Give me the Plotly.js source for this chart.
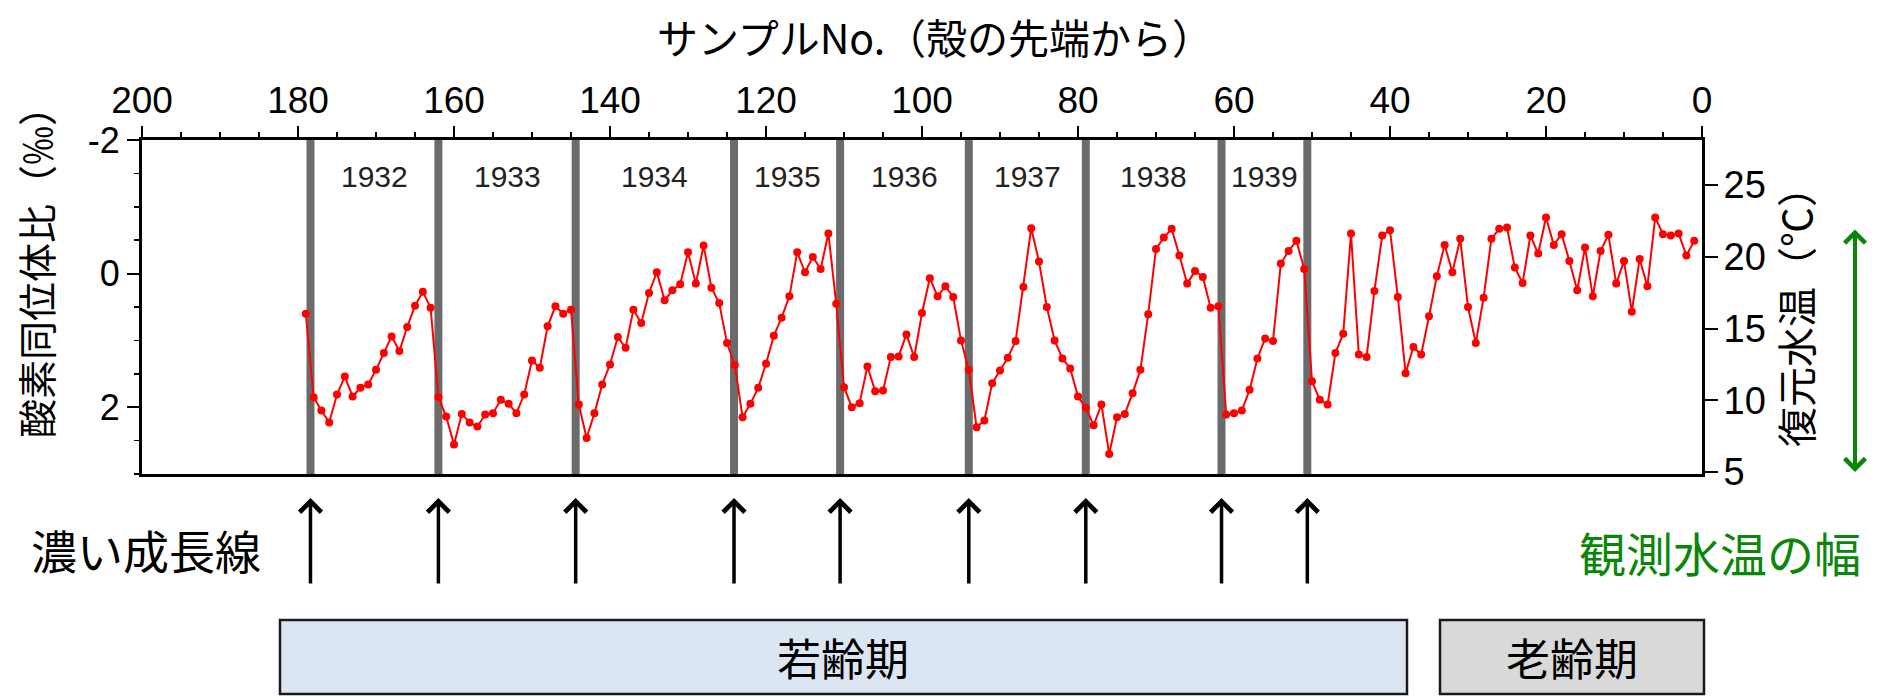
<!DOCTYPE html>
<html>
<head>
<meta charset="utf-8">
<script src="https://cdn.plot.ly/plotly-3.0.1.min.js"></script>
<style>
html,body{margin:0;padding:0;background:#fff;}
#chart{width:1881px;height:697px;}
</style>
</head>
<body>
<div id="chart"></div>
<script>
// ---- data ----
const sampleNo = [179,178,177,176,175,174,173,172,171,170,169,168,167,166,165,164,163,162,161,160,
  159,158,157,156,155,154,153,152,151,150,149,148,147,146,145,144,143,142,141,140,
  139,138,137,136,135,134,133,132,131,130,129,128,127,126,125,124,123,122,121,120,
  119,118,117,116,115,114,113,112,111,110,109,108,107,106,105,104,103,102,101,100,
  99,98,97,96,95,94,93,92,91,90,89,88,87,86,85,84,83,82,81,80,
  79,78,77,76,75,74,73,72,71,70,69,68,67,66,65,64,63,62,61,60,
  59,58,57,56,55,54,53,52,51,50,49,48,47,46,45,44,43,42,41,40,
  39,38,37,36,35,34,33,32,31,30,29,28,27,26,25,24,23,22,21,20,
  19,18,17,16,15,14,13,12,11,10,9,8,7,6,5,4,3,2,1];
const d18O = [0.60,1.85,2.05,2.23,1.81,1.54,1.84,1.71,1.66,1.44,1.19,0.94,1.16,0.80,0.48,0.27,0.51,1.85,2.14,2.56,
  2.10,2.23,2.29,2.11,2.09,1.89,1.95,2.09,1.81,1.30,1.41,0.79,0.49,0.60,0.54,1.96,2.46,2.09,1.66,1.36,
  0.95,1.11,0.54,0.74,0.29,-0.02,0.40,0.25,0.16,-0.32,0.15,-0.42,0.21,0.44,1.04,1.37,2.15,1.95,1.71,1.35,
  0.93,0.66,0.34,-0.32,-0.02,-0.25,-0.07,-0.60,0.45,1.70,2.00,1.94,1.39,1.76,1.75,1.25,1.24,0.91,1.25,0.59,
  0.07,0.34,0.19,0.35,1.00,1.44,2.30,2.20,1.64,1.45,1.26,1.01,0.20,-0.68,-0.18,0.50,1.00,1.27,1.42,1.84,
  2.01,2.27,1.96,2.70,2.15,2.10,1.79,1.44,0.61,-0.37,-0.54,-0.67,-0.27,0.15,-0.04,0.05,0.51,0.49,2.11,2.09,
  2.05,1.74,1.27,0.97,1.01,-0.15,-0.34,-0.49,-0.07,1.61,1.89,1.96,1.19,0.90,-0.60,1.21,1.25,0.26,-0.57,-0.65,
  0.35,1.49,1.10,1.21,0.64,0.04,-0.43,-0.02,-0.52,0.50,1.04,0.36,-0.52,-0.67,-0.69,-0.09,0.14,-0.57,-0.30,-0.84,
  -0.43,-0.59,-0.19,0.25,-0.39,0.34,-0.34,-0.58,0.15,-0.19,0.57,-0.22,0.19,-0.84,-0.59,-0.57,-0.60,-0.27,-0.49];
const growthLines = [178.4,162.0,144.4,124.1,110.5,94.0,79.0,61.6,50.6];   // dark growth lines (sample no.)
const years = ['1932','1933','1934','1935','1936','1937','1938','1939'];
const yearLabelY = -1.45;
const xTickVals = [200,180,160,140,120,100,80,60,40,20,0];
const leftTickVals = [-2,0,2];
const leftTickText = ['-2','0','2'];
const rightTickVals = [5,10,15,20,25];
const obsTempRange = [5,22];   // observed water temperature range (°C)

// ---- layout helpers ----
const W = 1881, H = 697;
const PL = 142, PR = 1702, PT = 140, PB = 474;
const pw = PR - PL, ph = PB - PT;
const px = v => (v - PL) / pw;
const py = v => (PB - v) / ph;
const JP = 'Noto Sans CJK JP';
const LAT = 'Liberation Sans, Arial, sans-serif';

const traces = [
  {
    x: sampleNo, y: d18O, type: 'scatter', mode: 'lines+markers',
    line: {color: '#ff0000', width: 2},
    marker: {color: '#ff0000', size: 8},
    xaxis: 'x', yaxis: 'y', hoverinfo: 'x+y', showlegend: false
  },
  { x: [], y: [], type: 'scatter', mode: 'lines', xaxis: 'x', yaxis: 'y2', showlegend: false, hoverinfo: 'skip' }
];

const shapes = [];
growthLines.forEach(g => {
  shapes.push({type: 'line', xref: 'x', yref: 'paper', x0: g, x1: g, y0: 0, y1: 1,
    line: {color: '#6b6b6b', width: 8}, layer: 'below'});
});
// phase boxes
shapes.push({type: 'rect', xref: 'paper', yref: 'paper', x0: px(280), x1: px(1407), y0: py(620), y1: py(694),
  line: {color: '#1a1a1a', width: 2.5}, fillcolor: '#dce6f2', layer: 'above'});
shapes.push({type: 'rect', xref: 'paper', yref: 'paper', x0: px(1440), x1: px(1704), y0: py(620), y1: py(694),
  line: {color: '#1a1a1a', width: 2.5}, fillcolor: '#d9d9d9', layer: 'above'});

const annotations = [];
for (let i = 0; i < years.length; i++) {
  annotations.push({x: (growthLines[i] + growthLines[i+1]) / 2, y: yearLabelY, xref: 'x', yref: 'y',
    text: years[i], showarrow: false, font: {family: LAT, size: 30, color: '#222'}});
}
growthLines.forEach(g => {
  annotations.push({x: g, y: py(498), xref: 'x', yref: 'paper', ax: 0, ay: 87, axref: 'pixel', ayref: 'pixel',
    text: '', showarrow: true, arrowhead: 4, arrowsize: 1.2, arrowwidth: 3.5, arrowcolor: '#000'});
});
// left axis title (placed above centre as in the original)
annotations.push({x: px(35), y: py(263), xref: 'paper', yref: 'paper', text: '酸素同位体比（‰）', textangle: -90,
  showarrow: false, xanchor: 'center', yanchor: 'middle', font: {family: JP, size: 39, color: '#000'}});
annotations.push({x: px(146), y: py(549), xref: 'paper', yref: 'paper', text: '濃い成長線', showarrow: false,
  xanchor: 'center', yanchor: 'middle', font: {family: JP, size: 46, color: '#000'}});
annotations.push({x: px(1720), y: py(551), xref: 'paper', yref: 'paper', text: '観測水温の幅', showarrow: false,
  xanchor: 'center', yanchor: 'middle', font: {family: JP, size: 47, color: '#0a870a'}});
annotations.push({x: px(843), y: py(657), xref: 'paper', yref: 'paper', text: '若齢期', showarrow: false,
  xanchor: 'center', yanchor: 'middle', font: {family: JP, size: 44, color: '#000'}});
annotations.push({x: px(1572), y: py(657), xref: 'paper', yref: 'paper', text: '老齢期', showarrow: false,
  xanchor: 'center', yanchor: 'middle', font: {family: JP, size: 44, color: '#000'}});
// green double arrow: observed temperature range on right axis
annotations.push({x: px(1855), xref: 'paper', y: obsTempRange[0], yref: 'y2',
  ax: 0, axref: 'pixel', ay: obsTempRange[1], ayref: 'y2',
  text: '', showarrow: true, arrowhead: 4, startarrowhead: 4, arrowside: 'end+start',
  arrowsize: 1, startarrowsize: 1, arrowwidth: 4, arrowcolor: '#0a870a'});

const layout = {
  width: W, height: H,
  margin: {l: PL, r: W - PR, t: PT, b: H - PB, pad: 0},
  paper_bgcolor: '#fff', plot_bgcolor: '#fff',
  showlegend: false,
  title: {text: 'サンプルNo.（殻の先端から）', font: {family: JP, size: 41, color: '#000'},
    x: px(935), xref: 'paper', xanchor: 'center', y: 1 - 40 / H, yref: 'container', yanchor: 'middle'},
  xaxis: {
    range: [200, 0], side: 'top', tickmode: 'array', tickvals: xTickVals,
    ticks: 'outside', ticklen: 11, tickwidth: 2, tickcolor: '#000', ticklabelstandoff: -2,
    minor: {tickmode: 'linear', tick0: 0, dtick: 5, ticks: 'outside', ticklen: 5, tickwidth: 1.5, tickcolor: '#000'},
    showline: true, linewidth: 3, linecolor: '#000', mirror: true,
    showgrid: false, zeroline: false, automargin: false,
    tickfont: {family: LAT, size: 37, color: '#000'}
  },
  yaxis: {
    range: [3, -2], tickmode: 'array', tickvals: leftTickVals, ticktext: leftTickText,
    ticks: 'outside', ticklen: 12, tickwidth: 2, tickcolor: '#000',
    minor: {tickmode: 'linear', tick0: 0, dtick: 0.5, ticks: 'outside', ticklen: 5, tickwidth: 1.5, tickcolor: '#000'},
    showline: true, linewidth: 3, linecolor: '#000',
    showgrid: false, zeroline: false, automargin: false,
    tickfont: {family: LAT, size: 36, color: '#000'}
  },
  yaxis2: {
    overlaying: 'y', side: 'right', range: [4.86, 28.14], tickmode: 'array', tickvals: rightTickVals,
    ticks: 'outside', ticklen: 13, tickwidth: 2, tickcolor: '#000', ticklabelstandoff: -2,
    showline: true, linewidth: 3, linecolor: '#000',
    showgrid: false, zeroline: false, automargin: false,
    tickfont: {family: LAT, size: 38, color: '#000'},
    title: {text: '復元水温（℃）', font: {family: JP, size: 40, color: '#000'}, standoff: 20}
  },
  shapes: shapes,
  annotations: annotations
};

Plotly.newPlot('chart', traces, layout, {displayModeBar: false, staticPlot: true});
</script>
</body>
</html>
